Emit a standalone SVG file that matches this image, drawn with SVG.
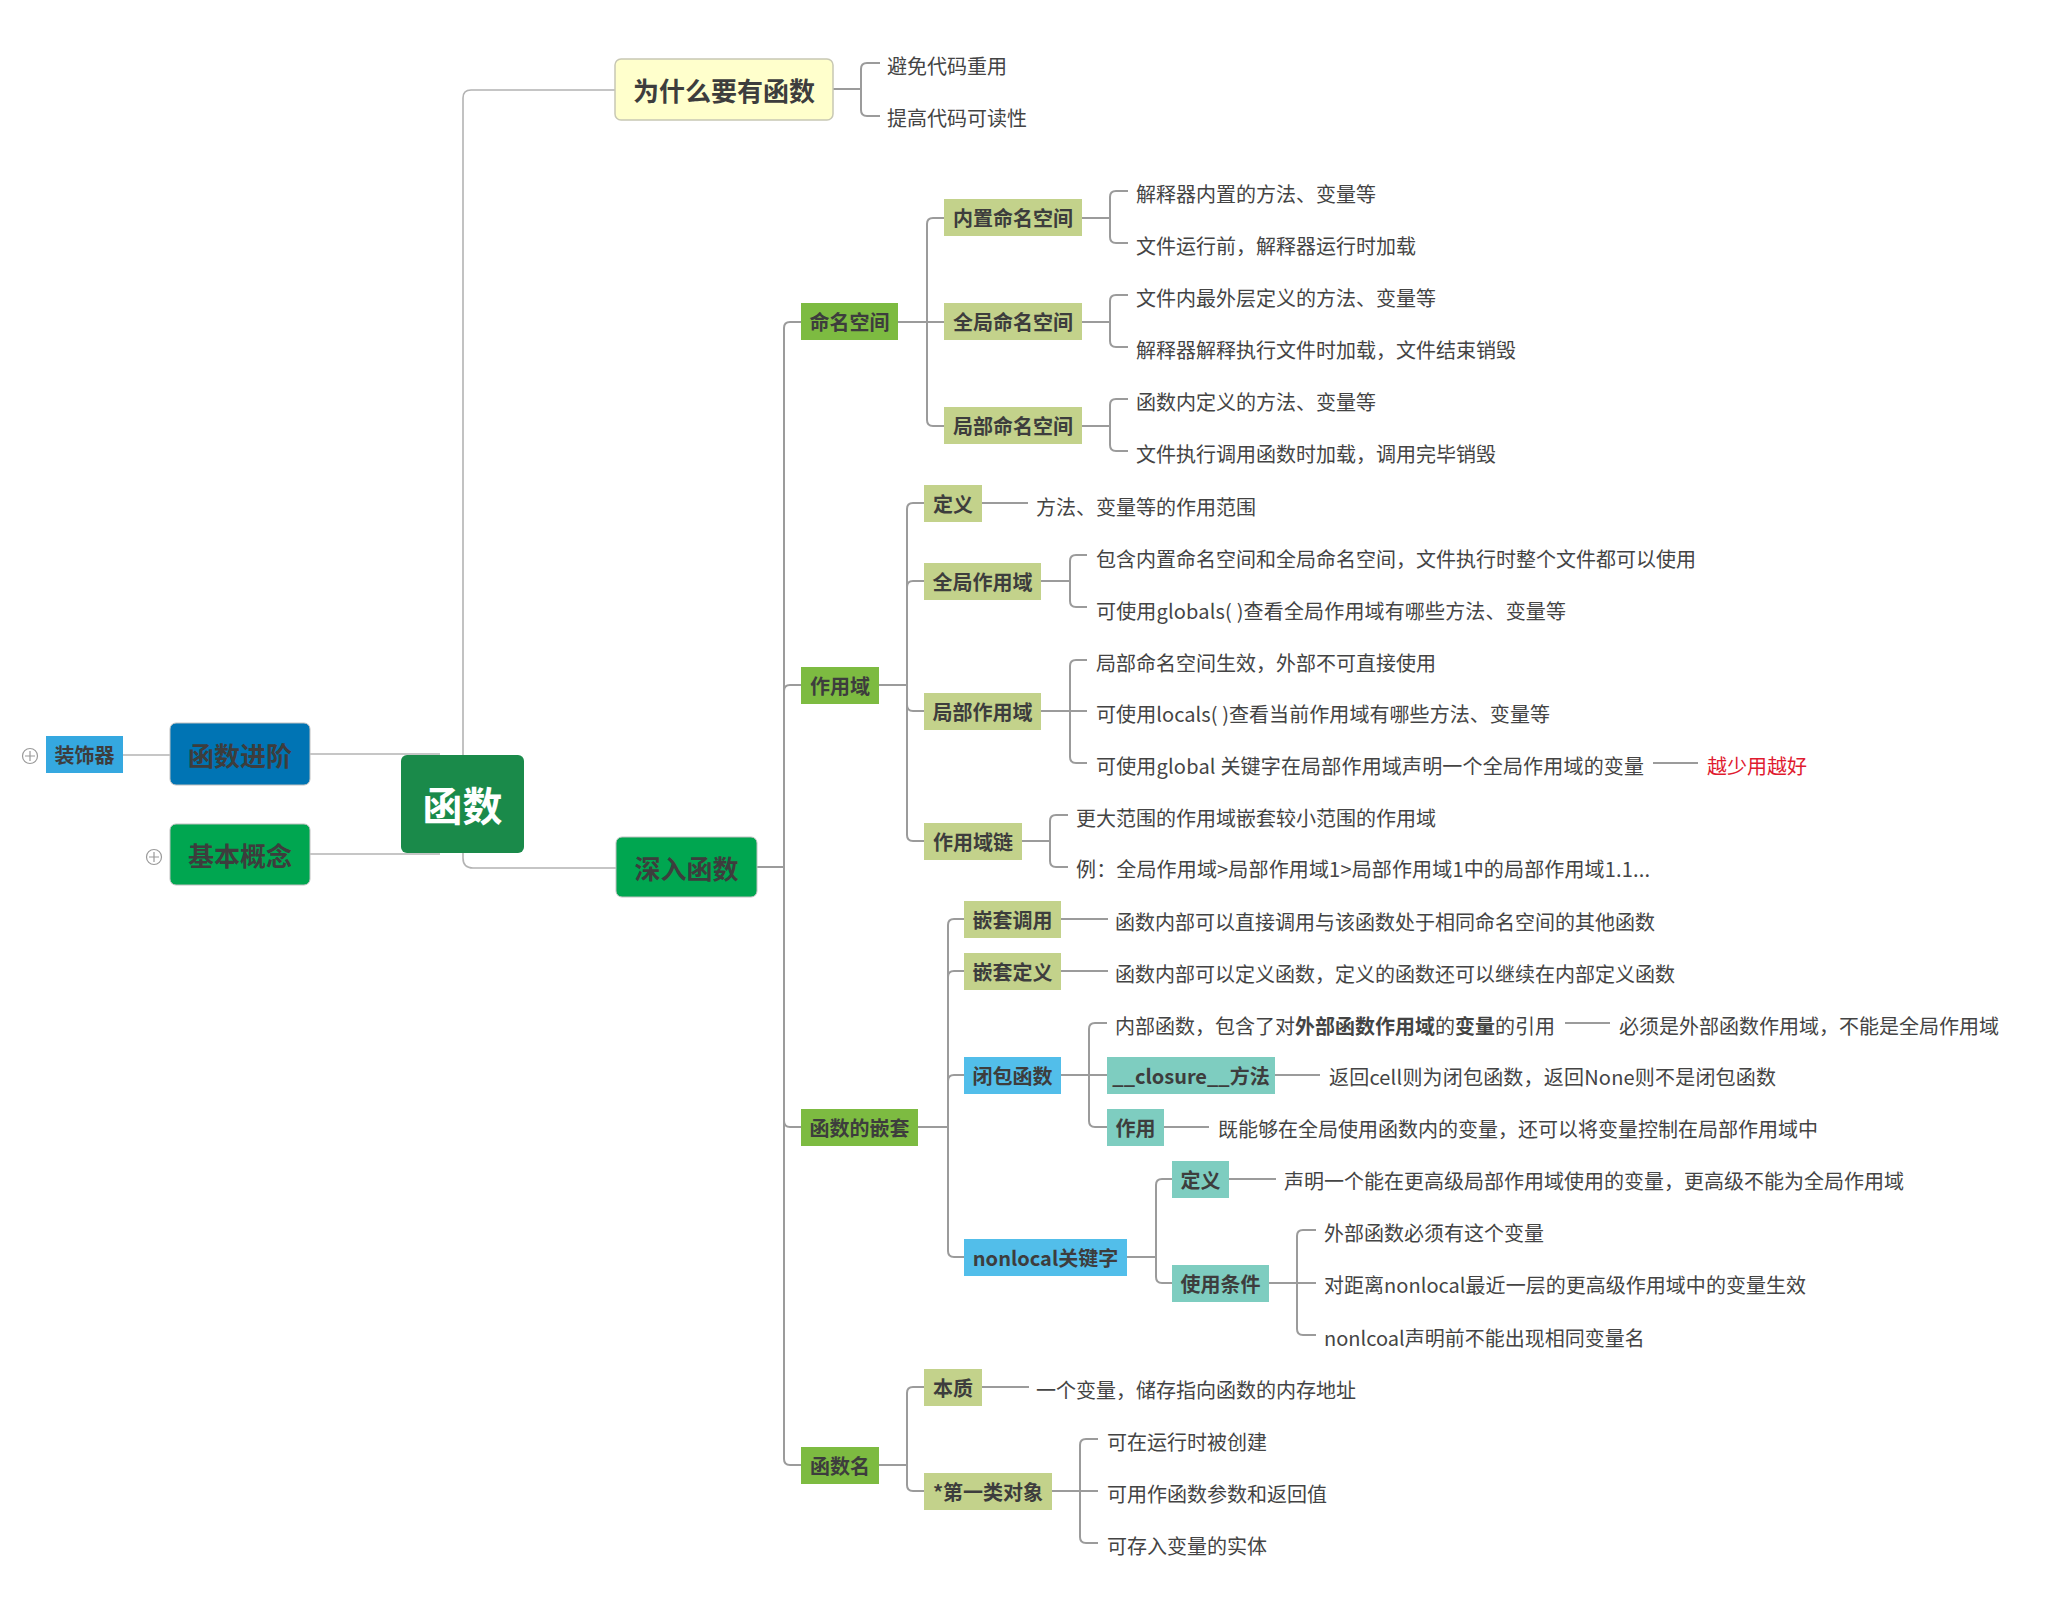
<svg xmlns="http://www.w3.org/2000/svg" width="2065" height="1617" viewBox="0 0 2065 1617">
<style>
text { font-family: "Noto Sans CJK SC", "Microsoft YaHei", sans-serif; }
.t { font-size: 20px; fill: #444444; dominant-baseline: central; transform: translate(0px, -1px); }
.red { fill: #E01B2F; }
.b { font-size: 20px; font-weight: bold; fill: #3d3d3d; text-anchor: middle; dominant-baseline: central; }
.m { font-size: 26px; font-weight: bold; fill: #3d3d3d; text-anchor: middle; dominant-baseline: central; }
.root { font-size: 40px; font-weight: bold; fill: #ffffff; text-anchor: middle; dominant-baseline: central; }
.c { fill: none; stroke: #9b9b9b; stroke-width: 2; }
.cr { fill: none; stroke: #b3b3b3; stroke-width: 1.6; }
.l2 { fill: #7DBB41; }
.l3 { fill: #C3D28B; }
.bl { fill: #52BEEA; }
.tl { fill: #7ECDC0; }
.plus { fill: #ffffff; stroke: #9a9a9a; stroke-width: 1.2; }
</style>
<rect width="2065" height="1617" fill="#ffffff"/>

<g id="connectors">
  <g class="cr">
    <path d="M463 755 V98 Q463 90 471 90 H615"/>
    <path d="M463 853 V858 Q463 868 473 868 H616"/>
    <path d="M310 754 H440"/>
    <path d="M310 854 H440"/>
    <path d="M123 755 H170"/>
  </g>
  <g class="c">
    <path d="M833 89 H861 V69 Q861 63 867 63 H880"/>
    <path d="M833 89 H861 V110 Q861 116 867 116 H880"/>
    <path d="M757 867 H784 V328 Q784 322 790 322 H801"/>
    <path d="M757 867 H784 V691 Q784 685 790 685 H801"/>
    <path d="M757 867 H784 V1121 Q784 1127 790 1127 H801"/>
    <path d="M757 867 H784 V1459 Q784 1465 790 1465 H801"/>
    <path d="M898 322 H927 V224 Q927 218 933 218 H944"/>
    <path d="M898 322 H944"/>
    <path d="M898 322 H927 V420 Q927 426 933 426 H944"/>
    <path d="M1082 218 H1110 V197 Q1110 191 1116 191 H1128"/>
    <path d="M1082 218 H1110 V237 Q1110 243 1116 243 H1128"/>
    <path d="M1082 322 H1110 V301 Q1110 295 1116 295 H1128"/>
    <path d="M1082 322 H1110 V341 Q1110 347 1116 347 H1128"/>
    <path d="M1082 426 H1110 V405 Q1110 399 1116 399 H1128"/>
    <path d="M1082 426 H1110 V445 Q1110 451 1116 451 H1128"/>
    <path d="M879 685 H907 V509 Q907 503 913 503 H924"/>
    <path d="M879 685 H907 V587 Q907 581 913 581 H924"/>
    <path d="M879 685 H907 V705 Q907 711 913 711 H924"/>
    <path d="M879 685 H907 V835 Q907 841 913 841 H924"/>
    <path d="M982 503 H1028"/>
    <path d="M1041 581 H1070 V561 Q1070 555 1076 555 H1087"/>
    <path d="M1041 581 H1070 V601 Q1070 607 1076 607 H1087"/>
    <path d="M1041 711 H1070 V666 Q1070 660 1076 660 H1087"/>
    <path d="M1041 711 H1087"/>
    <path d="M1041 711 H1070 V757 Q1070 763 1076 763 H1087"/>
    <path d="M1653 763 H1698"/>
    <path d="M1022 841 H1050 V821 Q1050 815 1056 815 H1068"/>
    <path d="M1022 841 H1050 V861 Q1050 867 1056 867 H1068"/>
    <path d="M918 1127 H948 V925 Q948 919 954 919 H964"/>
    <path d="M918 1127 H948 V977 Q948 971 954 971 H964"/>
    <path d="M918 1127 H948 V1081 Q948 1075 954 1075 H964"/>
    <path d="M918 1127 H948 V1251 Q948 1257 954 1257 H964"/>
    <path d="M1061 919 H1108"/>
    <path d="M1061 971 H1108"/>
    <path d="M1061 1075 H1089 V1029 Q1089 1023 1095 1023 H1107"/>
    <path d="M1061 1075 H1107"/>
    <path d="M1061 1075 H1089 V1121 Q1089 1127 1095 1127 H1107"/>
    <path d="M1565 1023 H1610"/>
    <path d="M1275 1075 H1320"/>
    <path d="M1164 1127 H1209"/>
    <path d="M1127 1257 H1156 V1185 Q1156 1179 1162 1179 H1172"/>
    <path d="M1127 1257 H1156 V1277 Q1156 1283 1162 1283 H1172"/>
    <path d="M1229 1179 H1276"/>
    <path d="M1269 1283 H1297 V1236 Q1297 1230 1303 1230 H1316"/>
    <path d="M1269 1283 H1316"/>
    <path d="M1269 1283 H1297 V1329 Q1297 1335 1303 1335 H1316"/>
    <path d="M879 1465 H907 V1393 Q907 1387 913 1387 H924"/>
    <path d="M879 1465 H907 V1485 Q907 1491 913 1491 H924"/>
    <path d="M982 1387 H1029"/>
    <path d="M1052 1491 H1080 V1445 Q1080 1439 1086 1439 H1098"/>
    <path d="M1052 1491 H1098"/>
    <path d="M1052 1491 H1080 V1537 Q1080 1543 1086 1543 H1098"/>
  </g>
</g>

<g id="root">
  <rect x="401" y="755" width="123" height="98" rx="6" fill="#1A8A4A"/>
  <text class="root" x="462.5" y="804">函数</text>
</g>
<g id="why">
  <rect x="615" y="59" width="218" height="61" rx="6" fill="#FFFFCC" stroke="#C8C8B4" stroke-width="1.5"/>
  <text class="m" x="724" y="89.5">为什么要有函数</text>
</g>
<g id="advanced">
  <rect x="170" y="723" width="140" height="62" rx="6" fill="#0074B4" stroke="#c0c0c0" stroke-width="1"/>
  <text class="m" x="240" y="754">函数进阶</text>
</g>
<g id="decorator">
  <circle class="plus" cx="30" cy="756" r="7.5"/>
  <path d="M25 756 H35 M30 751 V761" stroke="#9a9a9a" stroke-width="1.2"/>
  <rect x="46" y="736" width="77" height="37" fill="#35A8E0"/>
  <text class="b" x="84.5" y="754.5">装饰器</text>
</g>
<g id="basic">
  <circle class="plus" cx="154" cy="857" r="7.5"/>
  <path d="M149 857 H159 M154 852 V862" stroke="#9a9a9a" stroke-width="1.2"/>
  <rect x="170" y="824" width="140" height="61" rx="6" fill="#00A650" stroke="#c0c0c0" stroke-width="1"/>
  <text class="m" x="240" y="854.5">基本概念</text>
</g>
<g id="deep">
  <rect x="616" y="837" width="141" height="60" rx="6" fill="#00A650" stroke="#c0c0c0" stroke-width="1"/>
  <text class="m" x="686.5" y="867">深入函数</text>
</g>

<g id="why-texts">
  <text class="t" x="887" y="66">避免代码重用</text>
  <text class="t" x="887" y="118">提高代码可读性</text>
</g>

<g id="namespace">
  <rect class="l2" x="801" y="303" width="97" height="37"/>
  <text class="b" x="849.5" y="321.5">命名空间</text>
</g>
<g id="ns-builtin">
  <rect class="l3" x="944" y="199" width="138" height="37"/>
  <text class="b" x="1013" y="217.5">内置命名空间</text>
  <text class="t" x="1136" y="194">解释器内置的方法、变量等</text>
  <text class="t" x="1136" y="246">文件运行前，解释器运行时加载</text>
</g>
<g id="ns-global">
  <rect class="l3" x="944" y="303" width="138" height="37"/>
  <text class="b" x="1013" y="321.5">全局命名空间</text>
  <text class="t" x="1136" y="298">文件内最外层定义的方法、变量等</text>
  <text class="t" x="1136" y="350">解释器解释执行文件时加载，文件结束销毁</text>
</g>
<g id="ns-local">
  <rect class="l3" x="944" y="407" width="138" height="37"/>
  <text class="b" x="1013" y="425.5">局部命名空间</text>
  <text class="t" x="1136" y="402">函数内定义的方法、变量等</text>
  <text class="t" x="1136" y="454">文件执行调用函数时加载，调用完毕销毁</text>
</g>

<g id="scope">
  <rect class="l2" x="801" y="667" width="78" height="37"/>
  <text class="b" x="840" y="685.5">作用域</text>
</g>
<g id="scope-def">
  <rect class="l3" x="924" y="485" width="58" height="37"/>
  <text class="b" x="953" y="503.5">定义</text>
  <text class="t" x="1036" y="507">方法、变量等的作用范围</text>
</g>
<g id="scope-global">
  <rect class="l3" x="924" y="563" width="117" height="37"/>
  <text class="b" x="982.5" y="581.5">全局作用域</text>
  <text class="t" x="1096" y="559">包含内置命名空间和全局命名空间，文件执行时整个文件都可以使用</text>
  <text class="t" x="1096" y="611" textLength="470" lengthAdjust="spacing">可使用globals( )查看全局作用域有哪些方法、变量等</text>
</g>
<g id="scope-local">
  <rect class="l3" x="924" y="693" width="117" height="37"/>
  <text class="b" x="982.5" y="711.5">局部作用域</text>
  <text class="t" x="1096" y="663">局部命名空间生效，外部不可直接使用</text>
  <text class="t" x="1096" y="714" textLength="454" lengthAdjust="spacing">可使用locals( )查看当前作用域有哪些方法、变量等</text>
  <text class="t" x="1096" y="766" textLength="548" lengthAdjust="spacing">可使用global 关键字在局部作用域声明一个全局作用域的变量</text>
  <text class="t red" x="1707" y="766">越少用越好</text>
</g>
<g id="scope-chain">
  <rect class="l3" x="924" y="823" width="98" height="37"/>
  <text class="b" x="973" y="841.5">作用域链</text>
  <text class="t" x="1076" y="818">更大范围的作用域嵌套较小范围的作用域</text>
  <text class="t" x="1076" y="869" textLength="574" lengthAdjust="spacing">例：全局作用域&gt;局部作用域1&gt;局部作用域1中的局部作用域1.1...</text>
</g>

<g id="nesting">
  <rect class="l2" x="801" y="1109" width="117" height="37"/>
  <text class="b" x="859.5" y="1127.5">函数的嵌套</text>
</g>
<g id="nest-call">
  <rect class="l3" x="964" y="901" width="97" height="37"/>
  <text class="b" x="1012.5" y="919.5">嵌套调用</text>
  <text class="t" x="1115" y="922">函数内部可以直接调用与该函数处于相同命名空间的其他函数</text>
</g>
<g id="nest-def">
  <rect class="l3" x="964" y="953" width="97" height="37"/>
  <text class="b" x="1012.5" y="971.5">嵌套定义</text>
  <text class="t" x="1115" y="974">函数内部可以定义函数，定义的函数还可以继续在内部定义函数</text>
</g>
<g id="closure">
  <rect class="bl" x="964" y="1057" width="97" height="37"/>
  <text class="b" x="1012.5" y="1075.5">闭包函数</text>
  <text class="t" x="1115" y="1026">内部函数，包含了对<tspan font-weight="bold">外部函数作用域</tspan>的<tspan font-weight="bold">变量</tspan>的引用</text>
  <text class="t" x="1619" y="1026">必须是外部函数作用域，不能是全局作用域</text>
</g>
<g id="closure-method">
  <rect class="tl" x="1107" y="1057" width="168" height="37"/>
  <text class="b" x="1191" y="1075.5">__closure__方法</text>
  <text class="t" x="1329" y="1077" textLength="447" lengthAdjust="spacing">返回cell则为闭包函数，返回None则不是闭包函数</text>
</g>
<g id="closure-use">
  <rect class="tl" x="1107" y="1109" width="57" height="37"/>
  <text class="b" x="1135.5" y="1127.5">作用</text>
  <text class="t" x="1218" y="1129">既能够在全局使用函数内的变量，还可以将变量控制在局部作用域中</text>
</g>
<g id="nonlocal">
  <rect class="bl" x="964" y="1239" width="163" height="37"/>
  <text class="b" x="1045.5" y="1257.5">nonlocal关键字</text>
</g>
<g id="nonlocal-def">
  <rect class="tl" x="1172" y="1161" width="57" height="37"/>
  <text class="b" x="1200.5" y="1179.5">定义</text>
  <text class="t" x="1284" y="1181">声明一个能在更高级局部作用域使用的变量，更高级不能为全局作用域</text>
</g>
<g id="nonlocal-cond">
  <rect class="tl" x="1172" y="1265" width="97" height="37"/>
  <text class="b" x="1220.5" y="1283.5">使用条件</text>
  <text class="t" x="1324" y="1233">外部函数必须有这个变量</text>
  <text class="t" x="1324" y="1285" textLength="482" lengthAdjust="spacing">对距离nonlocal最近一层的更高级作用域中的变量生效</text>
  <text class="t" x="1324" y="1338">nonlcoal声明前不能出现相同变量名</text>
</g>

<g id="funcname">
  <rect class="l2" x="801" y="1447" width="78" height="37"/>
  <text class="b" x="840" y="1465.5">函数名</text>
</g>
<g id="fn-essence">
  <rect class="l3" x="924" y="1369" width="58" height="37"/>
  <text class="b" x="953" y="1387.5">本质</text>
  <text class="t" x="1036" y="1390">一个变量，储存指向函数的内存地址</text>
</g>
<g id="fn-firstclass">
  <rect class="l3" x="924" y="1473" width="128" height="37"/>
  <text class="b" x="988" y="1491.5">*第一类对象</text>
  <text class="t" x="1107" y="1442">可在运行时被创建</text>
  <text class="t" x="1107" y="1494">可用作函数参数和返回值</text>
  <text class="t" x="1107" y="1546">可存入变量的实体</text>
</g>
</svg>
